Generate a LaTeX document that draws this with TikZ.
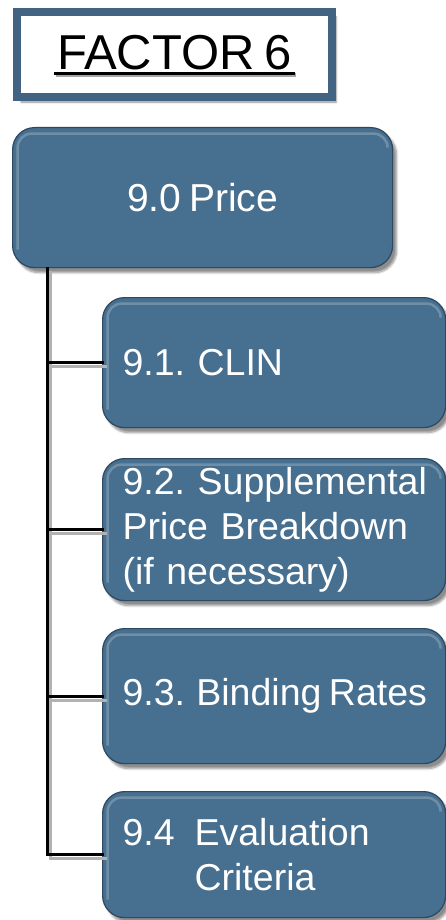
\documentclass[tikz,border=0pt]{standalone}
\usepackage{fontspec}
\setmainfont{Liberation Sans}
\usetikzlibrary{shadows.blur,calc}
\definecolor{boxblue}{RGB}{71,111,143}
\definecolor{boxedge}{RGB}{45,72,96}
\definecolor{framecol}{RGB}{66,100,130}
\tikzset{
  bluebox/.style={rounded corners=22pt, fill=boxblue, draw=boxedge, line width=1.2pt,
    text=white, blur shadow={shadow xshift=4pt, shadow yshift=-5pt, shadow blur steps=6, shadow opacity=45},
    path picture={\draw[white,opacity=0.22,line width=2.5pt,rounded corners=14pt]
      ($(path picture bounding box.south west)+(5pt,18pt)$) |- ($(path picture bounding box.north east)+(-5pt,-6pt)$) -- ++(0,-14pt);}},
  childbox/.style={bluebox, anchor=north west, inner xsep=20pt, inner ysep=1pt,
    text width=303pt, align=left, font=\fontsize{37.5}{45}\selectfont\frenchspacing},
  linkline/.style={line width=3pt, black, line cap=rect},
  linkshadow/.style={line width=3pt, black!30, line cap=rect},
  framebox/.style={draw=framecol, line width=8pt, fill=white,
    blur shadow={shadow xshift=4pt, shadow yshift=-5pt, shadow blur steps=6, shadow opacity=45}}
}
\begin{document}
\begin{tikzpicture}[x=1pt,y=1pt]
\useasboundingbox (0,0) rectangle (446,-920);
% title frame
\node[framebox, anchor=north west, minimum width=315pt, minimum height=85pt] (frame) at (13,-8) {};
\node[text=black, font=\fontsize{49}{52}\selectfont\frenchspacing, inner sep=0pt] (ftxt) at ($(frame.center)+(0,2)$) {FACTOR\hspace{0.2em}6};
\draw[black!35, line width=3.5pt] ($(ftxt.base west)+(-1,-5.5)$) -- ($(ftxt.base east)+(4,-5.5)$);
\draw[black, line width=3.5pt] ($(ftxt.base west)+(-2.5,-4)$) -- ($(ftxt.base east)+(2.5,-4)$);
% main box
\node[bluebox, anchor=north west, minimum width=380pt, minimum height=140pt,
  font=\fontsize{39}{45}\selectfont] (price) at (12,-127) {9.0\hspace{0.2em}Price};
% children
\node[childbox, minimum height=130pt] (c1) at (102,-297) {\mbox{9.1. CLIN}};
\node[childbox, minimum height=142pt] (c2) at (102,-458) {\mbox{9.2. Supplemental}\\\mbox{Price Breakdown}\\\mbox{(if necessary)}};
\node[childbox, minimum height=135pt] (c3) at (102,-628) {\mbox{9.3.\hspace{0.3em}Binding\hspace{0.2em}Rates}};
\node[childbox, minimum height=126pt] (c4) at (102,-791) {\mbox{\makebox[72pt][l]{9.4}Evaluation}\\\mbox{\hspace*{72pt}Criteria}};
% connectors
\coordinate (t0) at ($(price.south west)+(35,0)$);
\begin{scope}[transform canvas={xshift=3pt,yshift=-4pt}]
\draw[linkshadow] (t0) |- (c4.west);
\foreach \c in {c1,c2,c3} \draw[linkshadow] (t0 |- \c.west) -- (\c.west);
\end{scope}
\draw[linkline] (t0) |- (c4.west);
\foreach \c in {c1,c2,c3} \draw[linkline] (t0 |- \c.west) -- (\c.west);
\end{tikzpicture}
\end{document}
